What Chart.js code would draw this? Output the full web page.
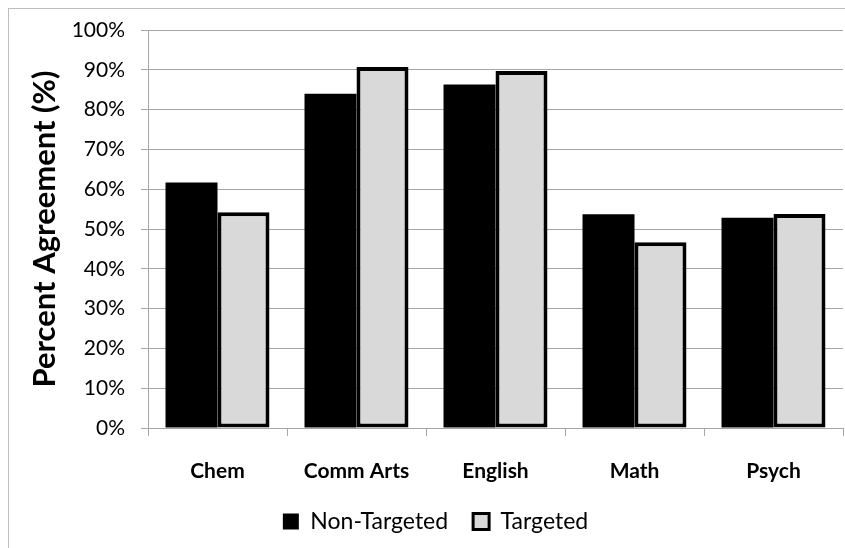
<!DOCTYPE html>
<html>
<head>
<meta charset="utf-8">
<script src="https://cdn.jsdelivr.net/npm/chart.js@4"></script>
<style>
  html, body { margin: 0; padding: 0; background: #fff; }
  #wrap { width: 845px; height: 548px; }
</style>
</head>
<body>
<div id="wrap"><canvas id="agreementChart" width="845" height="548"></canvas></div>
<script>
const subjects = ['Chem', 'Comm Arts', 'English', 'Math', 'Psych'];
const nonTargeted = [61.7, 84.0, 86.3, 53.7, 52.8];
const targeted = [54.2, 90.7, 89.7, 46.7, 53.8];
const yTicks = [0, 10, 20, 30, 40, 50, 60, 70, 80, 90, 100];

const gridGray = '#a6a6a6';
const fontFamily = 'Lato, "Open Sans", sans-serif';

// thin outline around the whole chart, plus nudging the legend a bit right
const chartFrame = {
    id: 'chartFrame',
    beforeDraw(chart) {
        let ctx = chart.ctx;
        ctx.save();
        ctx.fillStyle = '#fff';
        ctx.fillRect(0, 0, chart.width, chart.height);
        ctx.strokeStyle = '#bdbdbd';
        ctx.lineWidth = 1;
        ctx.strokeRect(8.5, 8.5, chart.width + 20, chart.height + 20);
        ctx.restore();
    },
    afterLayout(chart) {
        if (chart.legend) {
            chart.legend.left += 14;
            chart.legend.right += 14;
        }
    }
};

let ctx = document.getElementById('agreementChart').getContext('2d');
let chartInstance = new Chart(ctx, {
    type: 'bar',
    data: {
        labels: subjects,
        datasets: [{
            label: 'Non-Targeted',
            data: nonTargeted,
            backgroundColor: '#000',
            borderColor: '#000',
            borderWidth: 0
        }, {
            label: 'Targeted',
            data: targeted,
            backgroundColor: '#d9d9d9',
            borderColor: '#000',
            borderWidth: 4,
            borderSkipped: false
        }]
    },
    plugins: [chartFrame],
    options: {
        responsive: false,
        animation: false,
        layout: {
            padding: { left: 0, right: 2, top: 30, bottom: 5 }
        },
        datasets: {
            bar: {
                categoryPercentage: 0.748,
                barPercentage: 1
            }
        },
        plugins: {
            tooltip: { enabled: false },
            legend: {
                position: 'bottom',
                // wide gap between the two items, but keep the box short
                maxHeight: 60,
                labels: {
                    color: '#000',
                    font: { family: fontFamily, size: 23 },
                    boxWidth: 16,
                    boxHeight: 16,
                    padding: 25,
                    generateLabels(chart) {
                        return chart.data.datasets.map((ds, i) => ({
                            text: ds.label,
                            fillStyle: ds.backgroundColor,
                            strokeStyle: '#000',
                            lineWidth: i === 1 ? 3 : 0,
                            datasetIndex: i,
                            fontColor: '#000'
                        }));
                    }
                }
            }
        },
        scales: {
            x: {
                grid: {
                    display: true,
                    drawOnChartArea: false,
                    drawTicks: true,
                    tickLength: 8,
                    color: gridGray
                },
                border: { display: true, color: gridGray },
                ticks: {
                    color: '#000',
                    font: { family: fontFamily, size: 21, weight: 'bold' },
                    padding: 23,
                    maxRotation: 0,
                    autoSkip: false
                },
                afterFit(scale) {
                    scale.height = 57;
                }
            },
            y: {
                min: 0,
                max: 100,
                afterBuildTicks(scale) {
                    scale.ticks = yTicks.map(v => ({ value: v }));
                },
                grid: {
                    color: gridGray,
                    drawTicks: true,
                    tickLength: 7
                },
                border: { display: true, color: gridGray },
                ticks: {
                    color: '#000',
                    font: { family: fontFamily, size: 21 },
                    padding: 16,
                    callback: v => v + '%'
                },
                title: {
                    display: true,
                    text: 'Percent Agreement (%)',
                    color: '#000',
                    font: { family: fontFamily, size: 31, weight: 'bold' },
                    padding: { top: 26, bottom: 0 }
                },
                afterFit(scale) {
                    scale.width = 148;
                }
            }
        }
    }
});
</script>
</body>
</html>
